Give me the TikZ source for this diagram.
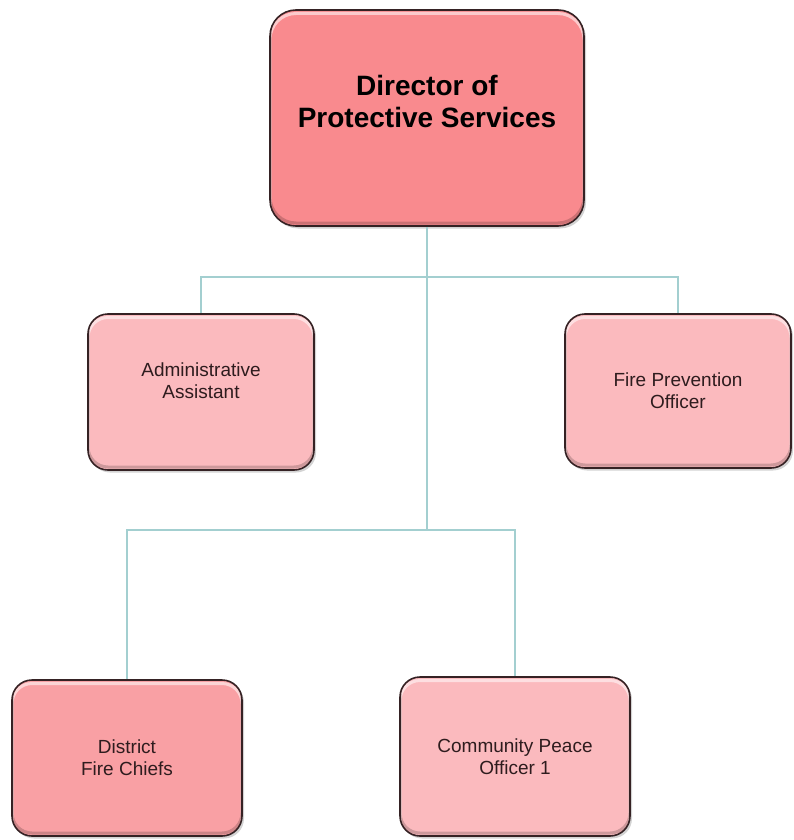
\documentclass[tikz,border=0pt]{standalone}
\usepackage{fontspec}
\setmainfont{Liberation Sans}
\usepackage{xcolor}
\usetikzlibrary{shadows}

\definecolor{headfill}{HTML}{F98A8E}
\definecolor{stafffill}{HTML}{FBBABE}
\definecolor{chieffill}{HTML}{F9A0A4}
\definecolor{edgecol}{HTML}{352224}
\definecolor{linkcol}{HTML}{A3CFD0}
\definecolor{textcol}{HTML}{2E1C1E}

\tikzset{
  bevel/.style={path picture={
    \draw[white, opacity=0.55, line width=3pt, rounded corners=#1]
      ([yshift=-3.5pt]path picture bounding box.south west) rectangle
      ([yshift=-3.5pt]path picture bounding box.north east);
    \draw[black, opacity=0.18, line width=3pt, rounded corners=#1]
      ([yshift=3pt]path picture bounding box.south west) rectangle
      ([yshift=3pt]path picture bounding box.north east);}},
  post/.style={draw=edgecol, line width=1.6pt, rounded corners=20pt, align=center,
    text=textcol, font=\fontsize{19}{22}\selectfont, inner sep=0pt, bevel=20pt,
    drop shadow={shadow xshift=2pt, shadow yshift=-2.5pt, opacity=0.35},
    minimum width=226pt, minimum height=156pt},
  head/.style={post, fill=headfill, rounded corners=26pt, bevel=26pt, text=black,
    font=\bfseries\fontsize{28}{32}\selectfont},
  staff/.style={post, fill=stafffill},
  chief/.style={post, fill=chieffill},
  link/.style={draw=linkcol, line width=1.6pt}
}

\begin{document}
\begin{tikzpicture}[x=1pt, y=-1pt]
\useasboundingbox (0,0) rectangle (793,840);

\coordinate (bus1) at (427,277);
\coordinate (bus2) at (427,530);

\node[head, minimum width=314pt, minimum height=216pt, text depth=34pt] (dir) at (427,118) {Director of\\Protective Services};
\node[staff, text depth=22pt] (admin) at (201,392) {Administrative\\Assistant};
\node[staff, minimum height=154pt] (fire) at (678,391) {Fire Prevention\\Officer};
\node[chief, minimum width=230pt] (chiefs) at (127,758) {District\\Fire Chiefs};
\node[staff, minimum width=230pt, minimum height=159pt] (cpo) at (515,756.5) {Community Peace\\Officer 1};

\draw[link] (dir.south) -- (bus2);
\draw[link] (admin.north) |- (bus1) -| (fire.north);
\draw[link] (chiefs.north) |- (bus2) -| (cpo.north);
\end{tikzpicture}
\end{document}
